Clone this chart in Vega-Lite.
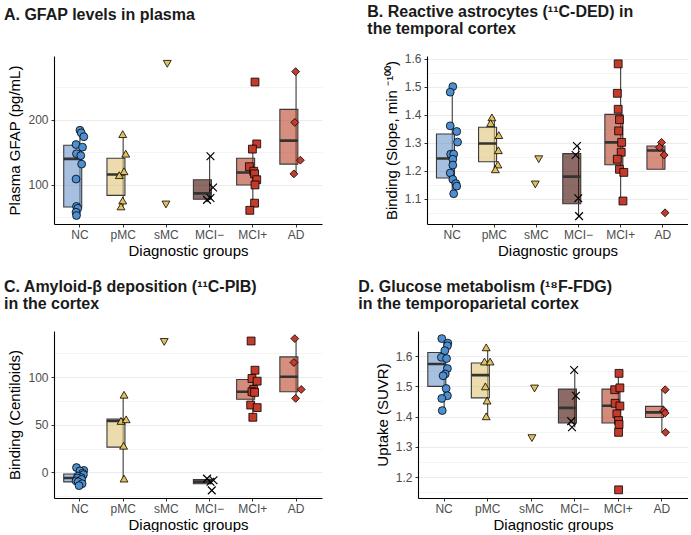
{
"$schema": "https://vega.github.io/schema/vega-lite/v6.json",
"background": "white",
"padding": {"left": 3, "top": 3, "right": 0, "bottom": 0},
"config": {
 "view": {"stroke": null},
 "font": "Liberation Sans",
 "axis": {"domainColor": "black", "domainWidth": 1.1, "tickColor": "#333333", "tickSize": 3, "tickWidth": 1, "labelColor": "#4d4d4d", "labelFontSize": 12, "labelFont": "Liberation Sans", "titleFont": "Liberation Sans", "titleFontSize": 15, "titleFontWeight": "normal", "titleColor": "black", "gridColor": "#ebebeb", "gridWidth": 1, "labelPadding": 3, "titlePadding": 5, "labelOverlap": false},
 "axisX": {"labelAngle": 0, "labelPadding": 2, "titlePadding": 3},
 "title": {"font": "Liberation Sans", "fontSize": 16, "fontWeight": "bold", "anchor": "start", "frame": "bounds", "color": "#1a1a1a", "lineHeight": 17}
},
"datasets": {
 "box": [
  {"panel": "A", "group": "NC", "q1": 66, "med": 140, "q3": 161, "lo": 53, "hi": 184},
  {"panel": "A", "group": "pMC", "q1": 84, "med": 116, "q3": 141, "lo": 67, "hi": 178},
  {"panel": "A", "group": "MCI−", "q1": 78, "med": 87, "q3": 108, "lo": 77, "hi": 144},
  {"panel": "A", "group": "MCI+", "q1": 100, "med": 119, "q3": 141, "lo": 61, "hi": 163},
  {"panel": "A", "group": "AD", "q1": 132, "med": 168, "q3": 216, "lo": 117, "hi": 274},
  {"panel": "B", "group": "NC", "q1": 1.174, "med": 1.2435, "q3": 1.331, "lo": 1.118, "hi": 1.5},
  {"panel": "B", "group": "pMC", "q1": 1.232, "med": 1.297, "q3": 1.355, "lo": 1.205, "hi": 1.39},
  {"panel": "B", "group": "MCI−", "q1": 1.082, "med": 1.179, "q3": 1.261, "lo": 1.038, "hi": 1.288},
  {"panel": "B", "group": "MCI+", "q1": 1.221, "med": 1.301, "q3": 1.401, "lo": 1.092, "hi": 1.581},
  {"panel": "B", "group": "AD", "q1": 1.205, "med": 1.272, "q3": 1.288, "lo": 1.205, "hi": 1.301},
  {"panel": "C", "group": "NC", "q1": -10.1, "med": -6, "q3": -1.8, "lo": -14, "hi": 5},
  {"panel": "C", "group": "pMC", "q1": 26.5, "med": 54, "q3": 56, "lo": -6.6, "hi": 81.5},
  {"panel": "C", "group": "MCI−", "q1": -12, "med": -10, "q3": -7.7, "lo": -12, "hi": -6.6},
  {"panel": "C", "group": "MCI+", "q1": 76.7, "med": 84.7, "q3": 97.6, "lo": 57.8, "hi": 107.3},
  {"panel": "C", "group": "AD", "q1": 84.7, "med": 100.4, "q3": 121.3, "lo": 77.7, "hi": 140.5},
  {"panel": "D", "group": "NC", "q1": 1.5, "med": 1.574, "q3": 1.612, "lo": 1.42, "hi": 1.658},
  {"panel": "D", "group": "pMC", "q1": 1.462, "med": 1.537, "q3": 1.577, "lo": 1.401, "hi": 1.629},
  {"panel": "D", "group": "MCI−", "q1": 1.379, "med": 1.429, "q3": 1.491, "lo": 1.365, "hi": 1.554},
  {"panel": "D", "group": "MCI+", "q1": 1.379, "med": 1.436, "q3": 1.491, "lo": 1.348, "hi": 1.543},
  {"panel": "D", "group": "AD", "q1": 1.397, "med": 1.414, "q3": 1.434, "lo": 1.348, "hi": 1.489}
 ],
 "pts": [
  {"panel": "A", "group": "NC", "value": 184, "jitter": 0},
  {"panel": "A", "group": "NC", "value": 180, "jitter": 0.03},
  {"panel": "A", "group": "NC", "value": 174, "jitter": 0.09},
  {"panel": "A", "group": "NC", "value": 162, "jitter": -0.09},
  {"panel": "A", "group": "NC", "value": 158, "jitter": 0.06},
  {"panel": "A", "group": "NC", "value": 148, "jitter": -0.08},
  {"panel": "A", "group": "NC", "value": 145, "jitter": 0.02},
  {"panel": "A", "group": "NC", "value": 132, "jitter": 0.04},
  {"panel": "A", "group": "NC", "value": 109, "jitter": -0.09},
  {"panel": "A", "group": "NC", "value": 67, "jitter": -0.08},
  {"panel": "A", "group": "NC", "value": 64, "jitter": -0.05},
  {"panel": "A", "group": "NC", "value": 58, "jitter": -0.09},
  {"panel": "A", "group": "NC", "value": 53, "jitter": -0.08},
  {"panel": "A", "group": "pMC", "value": 178, "jitter": -0.01},
  {"panel": "A", "group": "pMC", "value": 148, "jitter": 0.06},
  {"panel": "A", "group": "pMC", "value": 121, "jitter": 0.02},
  {"panel": "A", "group": "pMC", "value": 115, "jitter": -0.09},
  {"panel": "A", "group": "pMC", "value": 76, "jitter": -0.01},
  {"panel": "A", "group": "pMC", "value": 67, "jitter": -0.05},
  {"panel": "A", "group": "sMC", "value": 286, "jitter": 0.02},
  {"panel": "A", "group": "sMC", "value": 70, "jitter": -0.01},
  {"panel": "A", "group": "MCI−", "value": 144, "jitter": 0.02},
  {"panel": "A", "group": "MCI−", "value": 96, "jitter": 0.08},
  {"panel": "A", "group": "MCI−", "value": 77, "jitter": -0.06},
  {"panel": "A", "group": "MCI−", "value": 80, "jitter": 0.02},
  {"panel": "A", "group": "MCI+", "value": 258, "jitter": 0.05},
  {"panel": "A", "group": "MCI+", "value": 163, "jitter": 0.09},
  {"panel": "A", "group": "MCI+", "value": 155, "jitter": -0.01},
  {"panel": "A", "group": "MCI+", "value": 128, "jitter": -0.08},
  {"panel": "A", "group": "MCI+", "value": 121, "jitter": 0.02},
  {"panel": "A", "group": "MCI+", "value": 117, "jitter": 0.04},
  {"panel": "A", "group": "MCI+", "value": 108, "jitter": 0.09},
  {"panel": "A", "group": "MCI+", "value": 100, "jitter": 0.05},
  {"panel": "A", "group": "MCI+", "value": 72, "jitter": 0.04},
  {"panel": "A", "group": "MCI+", "value": 61, "jitter": -0.07},
  {"panel": "A", "group": "AD", "value": 274, "jitter": -0.01},
  {"panel": "A", "group": "AD", "value": 196, "jitter": -0.03},
  {"panel": "A", "group": "AD", "value": 138, "jitter": 0.1},
  {"panel": "A", "group": "AD", "value": 117, "jitter": -0.05},
  {"panel": "B", "group": "NC", "value": 1.5, "jitter": 0},
  {"panel": "B", "group": "NC", "value": 1.48, "jitter": -0.06},
  {"panel": "B", "group": "NC", "value": 1.36, "jitter": -0.06},
  {"panel": "B", "group": "NC", "value": 1.34, "jitter": 0.09},
  {"panel": "B", "group": "NC", "value": 1.302, "jitter": 0.11},
  {"panel": "B", "group": "NC", "value": 1.259, "jitter": -0.05},
  {"panel": "B", "group": "NC", "value": 1.259, "jitter": 0.02},
  {"panel": "B", "group": "NC", "value": 1.241, "jitter": 0},
  {"panel": "B", "group": "NC", "value": 1.22, "jitter": 0},
  {"panel": "B", "group": "NC", "value": 1.192, "jitter": -0.06},
  {"panel": "B", "group": "NC", "value": 1.169, "jitter": 0},
  {"panel": "B", "group": "NC", "value": 1.154, "jitter": 0.07},
  {"panel": "B", "group": "NC", "value": 1.145, "jitter": 0.09},
  {"panel": "B", "group": "NC", "value": 1.118, "jitter": 0.02},
  {"panel": "B", "group": "pMC", "value": 1.39, "jitter": -0.07},
  {"panel": "B", "group": "pMC", "value": 1.37, "jitter": -0.1},
  {"panel": "B", "group": "pMC", "value": 1.327, "jitter": 0.09},
  {"panel": "B", "group": "pMC", "value": 1.273, "jitter": 0.08},
  {"panel": "B", "group": "pMC", "value": 1.222, "jitter": 0.07},
  {"panel": "B", "group": "pMC", "value": 1.205, "jitter": 0.01},
  {"panel": "B", "group": "sMC", "value": 1.241, "jitter": 0.04},
  {"panel": "B", "group": "sMC", "value": 1.151, "jitter": -0.04},
  {"panel": "B", "group": "MCI−", "value": 1.288, "jitter": -0.05},
  {"panel": "B", "group": "MCI−", "value": 1.256, "jitter": -0.08},
  {"panel": "B", "group": "MCI−", "value": 1.102, "jitter": -0.02},
  {"panel": "B", "group": "MCI−", "value": 1.038, "jitter": 0},
  {"panel": "B", "group": "MCI+", "value": 1.581, "jitter": -0.07},
  {"panel": "B", "group": "MCI+", "value": 1.476, "jitter": -0.09},
  {"panel": "B", "group": "MCI+", "value": 1.419, "jitter": -0.07},
  {"panel": "B", "group": "MCI+", "value": 1.382, "jitter": -0.04},
  {"panel": "B", "group": "MCI+", "value": 1.342, "jitter": -0.06},
  {"panel": "B", "group": "MCI+", "value": 1.301, "jitter": 0.01},
  {"panel": "B", "group": "MCI+", "value": 1.266, "jitter": 0},
  {"panel": "B", "group": "MCI+", "value": 1.241, "jitter": -0.09},
  {"panel": "B", "group": "MCI+", "value": 1.205, "jitter": -0.04},
  {"panel": "B", "group": "MCI+", "value": 1.194, "jitter": 0.06},
  {"panel": "B", "group": "MCI+", "value": 1.092, "jitter": 0.04},
  {"panel": "B", "group": "AD", "value": 1.301, "jitter": -0.04},
  {"panel": "B", "group": "AD", "value": 1.283, "jitter": -0.09},
  {"panel": "B", "group": "AD", "value": 1.256, "jitter": 0.02},
  {"panel": "B", "group": "AD", "value": 1.05, "jitter": 0.04},
  {"panel": "C", "group": "NC", "value": 5, "jitter": -0.08},
  {"panel": "C", "group": "NC", "value": 2, "jitter": 0.09},
  {"panel": "C", "group": "NC", "value": 1.5, "jitter": 0},
  {"panel": "C", "group": "NC", "value": -1, "jitter": 0.06},
  {"panel": "C", "group": "NC", "value": -2.5, "jitter": 0.08},
  {"panel": "C", "group": "NC", "value": -4, "jitter": -0.05},
  {"panel": "C", "group": "NC", "value": -5.5, "jitter": 0.03},
  {"panel": "C", "group": "NC", "value": -6, "jitter": -0.06},
  {"panel": "C", "group": "NC", "value": -7.5, "jitter": 0.04},
  {"panel": "C", "group": "NC", "value": -9, "jitter": -0.09},
  {"panel": "C", "group": "NC", "value": -10, "jitter": -0.04},
  {"panel": "C", "group": "NC", "value": -12, "jitter": 0.05},
  {"panel": "C", "group": "NC", "value": -14, "jitter": -0.02},
  {"panel": "C", "group": "pMC", "value": 81.5, "jitter": 0.02},
  {"panel": "C", "group": "pMC", "value": 54, "jitter": -0.05},
  {"panel": "C", "group": "pMC", "value": 55.7, "jitter": 0.07},
  {"panel": "C", "group": "pMC", "value": 27.9, "jitter": 0.01},
  {"panel": "C", "group": "pMC", "value": -6.6, "jitter": 0.02},
  {"panel": "C", "group": "sMC", "value": 137, "jitter": -0.05},
  {"panel": "C", "group": "MCI−", "value": -6.6, "jitter": -0.06},
  {"panel": "C", "group": "MCI−", "value": -8.4, "jitter": 0.09},
  {"panel": "C", "group": "MCI−", "value": -10, "jitter": 0.02},
  {"panel": "C", "group": "MCI−", "value": -19, "jitter": 0.05},
  {"panel": "C", "group": "MCI+", "value": 138, "jitter": -0.04},
  {"panel": "C", "group": "MCI+", "value": 107.3, "jitter": 0.05},
  {"panel": "C", "group": "MCI+", "value": 98.6, "jitter": -0.02},
  {"panel": "C", "group": "MCI+", "value": 95.8, "jitter": 0.1},
  {"panel": "C", "group": "MCI+", "value": 87.1, "jitter": 0.02},
  {"panel": "C", "group": "MCI+", "value": 84.7, "jitter": -0.02},
  {"panel": "C", "group": "MCI+", "value": 84, "jitter": 0.04},
  {"panel": "C", "group": "MCI+", "value": 70.7, "jitter": -0.05},
  {"panel": "C", "group": "MCI+", "value": 68, "jitter": 0.1},
  {"panel": "C", "group": "MCI+", "value": 57.8, "jitter": 0},
  {"panel": "C", "group": "AD", "value": 140.5, "jitter": -0.03},
  {"panel": "C", "group": "AD", "value": 115.4, "jitter": -0.05},
  {"panel": "C", "group": "AD", "value": 87.1, "jitter": 0.12},
  {"panel": "C", "group": "AD", "value": 77.7, "jitter": -0.01},
  {"panel": "D", "group": "NC", "value": 1.658, "jitter": -0.05},
  {"panel": "D", "group": "NC", "value": 1.643, "jitter": 0.09},
  {"panel": "D", "group": "NC", "value": 1.634, "jitter": 0.08},
  {"panel": "D", "group": "NC", "value": 1.618, "jitter": 0.02},
  {"panel": "D", "group": "NC", "value": 1.596, "jitter": -0.06},
  {"panel": "D", "group": "NC", "value": 1.592, "jitter": 0.06},
  {"panel": "D", "group": "NC", "value": 1.559, "jitter": 0.08},
  {"panel": "D", "group": "NC", "value": 1.541, "jitter": 0.03},
  {"panel": "D", "group": "NC", "value": 1.535, "jitter": -0.02},
  {"panel": "D", "group": "NC", "value": 1.493, "jitter": 0.05},
  {"panel": "D", "group": "NC", "value": 1.469, "jitter": 0.08},
  {"panel": "D", "group": "NC", "value": 1.46, "jitter": -0.05},
  {"panel": "D", "group": "NC", "value": 1.42, "jitter": -0.04},
  {"panel": "D", "group": "pMC", "value": 1.629, "jitter": -0.03},
  {"panel": "D", "group": "pMC", "value": 1.582, "jitter": -0.07},
  {"panel": "D", "group": "pMC", "value": 1.582, "jitter": 0.06},
  {"panel": "D", "group": "pMC", "value": 1.5, "jitter": -0.05},
  {"panel": "D", "group": "pMC", "value": 1.453, "jitter": -0.01},
  {"panel": "D", "group": "pMC", "value": 1.401, "jitter": -0.03},
  {"panel": "D", "group": "sMC", "value": 1.493, "jitter": 0.08},
  {"panel": "D", "group": "sMC", "value": 1.329, "jitter": 0.02},
  {"panel": "D", "group": "MCI−", "value": 1.554, "jitter": -0.01},
  {"panel": "D", "group": "MCI−", "value": 1.469, "jitter": 0.03},
  {"panel": "D", "group": "MCI−", "value": 1.385, "jitter": -0.08},
  {"panel": "D", "group": "MCI−", "value": 1.365, "jitter": -0.06},
  {"panel": "D", "group": "MCI+", "value": 1.543, "jitter": 0.02},
  {"panel": "D", "group": "MCI+", "value": 1.489, "jitter": -0.08},
  {"panel": "D", "group": "MCI+", "value": 1.495, "jitter": 0.04},
  {"panel": "D", "group": "MCI+", "value": 1.444, "jitter": -0.07},
  {"panel": "D", "group": "MCI+", "value": 1.435, "jitter": 0.04},
  {"panel": "D", "group": "MCI+", "value": 1.409, "jitter": -0.03},
  {"panel": "D", "group": "MCI+", "value": 1.387, "jitter": 0.01},
  {"panel": "D", "group": "MCI+", "value": 1.374, "jitter": 0.02},
  {"panel": "D", "group": "MCI+", "value": 1.348, "jitter": 0.01},
  {"panel": "D", "group": "MCI+", "value": 1.158, "jitter": 0.01},
  {"panel": "D", "group": "AD", "value": 1.489, "jitter": 0.08},
  {"panel": "D", "group": "AD", "value": 1.42, "jitter": 0.05},
  {"panel": "D", "group": "AD", "value": 1.412, "jitter": 0.08},
  {"panel": "D", "group": "AD", "value": 1.348, "jitter": 0.09}
 ]
},
"spacing": 21,
"vconcat": [
 {"bounds": "flush", "spacing": 105, "hconcat": [
  {"width": 268, "height": 168,
   "title": {"text": "A. GFAP levels in plasma", "offset": 33, "dx": -4},
   "resolve": {"axis": {"y": "independent"}},
   "encoding": {"x": {"field": "group", "type": "nominal", "scale": {"type": "band", "domain": ["NC","pMC","sMC","MCI−","MCI+","AD"], "paddingInner": 0, "paddingOuter": 0.1}, "title": "Diagnostic groups"}},
   "layer": [
    {"data": {"name": "box"}, "transform": [{"filter": "datum.panel === 'A'"}], "mark": {"type": "rule", "color": "#3a3a3a", "strokeWidth": 1.1},
     "encoding": {"y": {"field": "lo", "type": "quantitative", "scale": {"domain": [40, 298], "nice": false, "zero": false}, "title": null,
       "axis": {"orient": "left", "values": [50, 150, 250], "labels": false, "ticks": false, "domain": false, "grid": true, "gridWidth": 0.5}},
      "y2": {"field": "hi"}}},
    {"data": {"name": "box"}, "transform": [{"filter": "datum.panel === 'A'"}], "mark": {"type": "bar", "width": {"band": 0.75}, "stroke": "#3a3a3a", "strokeWidth": 1.1, "fillOpacity": 0.6},
     "encoding": {"y": {"field": "q1", "type": "quantitative", "title": "Plasma GFAP (pg/mL)", "axis": {"orient": "left", "values": [100, 200], "grid": true}}, "y2": {"field": "q3"}, "color": {"field": "group", "type": "nominal", "legend": null, "scale": {"domain": ["NC","pMC","MCI−","MCI+","AD"], "range": ["#6e96cb","#dfc576","#3f0800","#b63e25","#bb432a"]}}}},
    {"data": {"name": "box"}, "transform": [{"filter": "datum.panel === 'A'"}], "mark": {"type": "bar", "width": {"band": 0.75}, "fill": null, "stroke": "#333333", "strokeWidth": 2.6},
     "encoding": {"y": {"field": "med", "type": "quantitative", "axis": null}, "y2": {"field": "med"}}},
    {"data": {"name": "pts"}, "transform": [{"filter": "datum.panel === 'A' && datum.group !== 'MCI−'"}], "mark": {"type": "point", "filled": true, "stroke": "black", "strokeWidth": 0.8, "size": 62, "opacity": 1},
     "encoding": {"y": {"field": "value", "type": "quantitative", "axis": null}, "xOffset": {"field": "jitter", "type": "quantitative", "scale": {"domain": [-0.5, 0.5]}},
      "shape": {"field": "group", "type": "nominal", "legend": null, "scale": {"domain": ["NC","pMC","sMC","MCI+","AD"], "range": ["circle","triangle-up","triangle-down","square","diamond"]}},
      "fill": {"field": "group", "type": "nominal", "legend": null, "scale": {"domain": ["NC","pMC","sMC","MCI+","AD"], "range": ["#4d8fd0","#e3c15a","#e3c15a","#c43a2b","#c43a2b"]}}}},
    {"data": {"name": "pts"}, "transform": [{"filter": "datum.panel === 'A' && datum.group === 'MCI−'"}], "mark": {"type": "point", "shape": "M-1,-1L1,1M-1,1L1,-1", "filled": false, "stroke": "black", "strokeWidth": 1.2, "size": 60, "opacity": 1},
     "encoding": {"y": {"field": "value", "type": "quantitative", "axis": null}, "xOffset": {"field": "jitter", "type": "quantitative", "scale": {"domain": [-0.5, 0.5]}}}}
   ]},
  {"width": 261, "height": 168,
   "title": {"text": ["B. Reactive astrocytes (¹¹C-DED) in", "the temporal cortex"], "offset": 16, "dx": -17},
   "resolve": {"axis": {"y": "independent"}},
   "encoding": {"x": {"field": "group", "type": "nominal", "scale": {"type": "band", "domain": ["NC","pMC","sMC","MCI−","MCI+","AD"], "paddingInner": 0, "paddingOuter": 0.1}, "title": "Diagnostic groups"}},
   "layer": [
    {"data": {"name": "box"}, "transform": [{"filter": "datum.panel === 'B'"}], "mark": {"type": "rule", "color": "#3a3a3a", "strokeWidth": 1.1},
     "encoding": {"y": {"field": "lo", "type": "quantitative", "scale": {"domain": [1.01, 1.609], "nice": false, "zero": false}, "title": null,
       "axis": {"orient": "left", "values": [1.05, 1.15, 1.25, 1.35, 1.45, 1.55], "labels": false, "ticks": false, "domain": false, "grid": true, "gridWidth": 0.5}},
      "y2": {"field": "hi"}}},
    {"data": {"name": "box"}, "transform": [{"filter": "datum.panel === 'B'"}], "mark": {"type": "bar", "width": {"band": 0.75}, "stroke": "#3a3a3a", "strokeWidth": 1.1, "fillOpacity": 0.6},
     "encoding": {"y": {"field": "q1", "type": "quantitative", "title": "Binding (Slope, min ⁻¹⁰⁰)", "axis": {"orient": "left", "values": [1.1, 1.2, 1.3, 1.4, 1.5, 1.6], "format": ".1f", "grid": true}}, "y2": {"field": "q3"}, "color": {"field": "group", "type": "nominal", "legend": null, "scale": {"domain": ["NC","pMC","MCI−","MCI+","AD"], "range": ["#6e96cb","#dfc576","#3f0800","#b63e25","#bb432a"]}}}},
    {"data": {"name": "box"}, "transform": [{"filter": "datum.panel === 'B'"}], "mark": {"type": "bar", "width": {"band": 0.75}, "fill": null, "stroke": "#333333", "strokeWidth": 2.6},
     "encoding": {"y": {"field": "med", "type": "quantitative", "axis": null}, "y2": {"field": "med"}}},
    {"data": {"name": "pts"}, "transform": [{"filter": "datum.panel === 'B' && datum.group !== 'MCI−'"}], "mark": {"type": "point", "filled": true, "stroke": "black", "strokeWidth": 0.8, "size": 62, "opacity": 1},
     "encoding": {"y": {"field": "value", "type": "quantitative", "axis": null}, "xOffset": {"field": "jitter", "type": "quantitative", "scale": {"domain": [-0.5, 0.5]}},
      "shape": {"field": "group", "type": "nominal", "legend": null, "scale": {"domain": ["NC","pMC","sMC","MCI+","AD"], "range": ["circle","triangle-up","triangle-down","square","diamond"]}},
      "fill": {"field": "group", "type": "nominal", "legend": null, "scale": {"domain": ["NC","pMC","sMC","MCI+","AD"], "range": ["#4d8fd0","#e3c15a","#e3c15a","#c43a2b","#c43a2b"]}}}},
    {"data": {"name": "pts"}, "transform": [{"filter": "datum.panel === 'B' && datum.group === 'MCI−'"}], "mark": {"type": "point", "shape": "M-1,-1L1,1M-1,1L1,-1", "filled": false, "stroke": "black", "strokeWidth": 1.2, "size": 60, "opacity": 1},
     "encoding": {"y": {"field": "value", "type": "quantitative", "axis": null}, "xOffset": {"field": "jitter", "type": "quantitative", "scale": {"domain": [-0.5, 0.5]}}}}
   ]}
 ]},
 {"bounds": "flush", "spacing": 96, "hconcat": [
  {"width": 268, "height": 167,
   "title": {"text": ["C. Amyloid-β deposition (¹¹C-PIB)", "in the cortex"], "offset": 19, "dx": -4},
   "resolve": {"axis": {"y": "independent"}},
   "encoding": {"x": {"field": "group", "type": "nominal", "scale": {"type": "band", "domain": ["NC","pMC","sMC","MCI−","MCI+","AD"], "paddingInner": 0, "paddingOuter": 0.1}, "title": "Diagnostic groups"}},
   "layer": [
    {"data": {"name": "box"}, "transform": [{"filter": "datum.panel === 'C'"}], "mark": {"type": "rule", "color": "#3a3a3a", "strokeWidth": 1.1},
     "encoding": {"y": {"field": "lo", "type": "quantitative", "scale": {"domain": [-27, 148.5], "nice": false, "zero": false}, "title": null,
       "axis": {"orient": "left", "values": [-25, 25, 75, 125], "labels": false, "ticks": false, "domain": false, "grid": true, "gridWidth": 0.5}},
      "y2": {"field": "hi"}}},
    {"data": {"name": "box"}, "transform": [{"filter": "datum.panel === 'C'"}], "mark": {"type": "bar", "width": {"band": 0.75}, "stroke": "#3a3a3a", "strokeWidth": 1.1, "fillOpacity": 0.6},
     "encoding": {"y": {"field": "q1", "type": "quantitative", "title": "Binding (Centiloids)", "axis": {"orient": "left", "values": [0, 50, 100], "grid": true}}, "y2": {"field": "q3"}, "color": {"field": "group", "type": "nominal", "legend": null, "scale": {"domain": ["NC","pMC","MCI−","MCI+","AD"], "range": ["#6e96cb","#dfc576","#3f0800","#b63e25","#bb432a"]}}}},
    {"data": {"name": "box"}, "transform": [{"filter": "datum.panel === 'C'"}], "mark": {"type": "bar", "width": {"band": 0.75}, "fill": null, "stroke": "#333333", "strokeWidth": 2.6},
     "encoding": {"y": {"field": "med", "type": "quantitative", "axis": null}, "y2": {"field": "med"}}},
    {"data": {"name": "pts"}, "transform": [{"filter": "datum.panel === 'C' && datum.group !== 'MCI−'"}], "mark": {"type": "point", "filled": true, "stroke": "black", "strokeWidth": 0.8, "size": 62, "opacity": 1},
     "encoding": {"y": {"field": "value", "type": "quantitative", "axis": null}, "xOffset": {"field": "jitter", "type": "quantitative", "scale": {"domain": [-0.5, 0.5]}},
      "shape": {"field": "group", "type": "nominal", "legend": null, "scale": {"domain": ["NC","pMC","sMC","MCI+","AD"], "range": ["circle","triangle-up","triangle-down","square","diamond"]}},
      "fill": {"field": "group", "type": "nominal", "legend": null, "scale": {"domain": ["NC","pMC","sMC","MCI+","AD"], "range": ["#4d8fd0","#e3c15a","#e3c15a","#c43a2b","#c43a2b"]}}}},
    {"data": {"name": "pts"}, "transform": [{"filter": "datum.panel === 'C' && datum.group === 'MCI−'"}], "mark": {"type": "point", "shape": "M-1,-1L1,1M-1,1L1,-1", "filled": false, "stroke": "black", "strokeWidth": 1.2, "size": 60, "opacity": 1},
     "encoding": {"y": {"field": "value", "type": "quantitative", "axis": null}, "xOffset": {"field": "jitter", "type": "quantitative", "scale": {"domain": [-0.5, 0.5]}}}}
   ]},
  {"width": 270, "height": 167,
   "title": {"text": ["D. Glucose metabolism (¹⁸F-FDG)", "in the temporoparietal cortex"], "offset": 19, "dx": -17},
   "resolve": {"axis": {"y": "independent"}},
   "encoding": {"x": {"field": "group", "type": "nominal", "scale": {"type": "band", "domain": ["NC","pMC","sMC","MCI−","MCI+","AD"], "paddingInner": 0, "paddingOuter": 0.1}, "title": "Diagnostic groups"}},
   "layer": [
    {"data": {"name": "box"}, "transform": [{"filter": "datum.panel === 'D'"}], "mark": {"type": "rule", "color": "#3a3a3a", "strokeWidth": 1.1},
     "encoding": {"y": {"field": "lo", "type": "quantitative", "scale": {"domain": [1.131, 1.683], "nice": false, "zero": false}, "title": null,
       "axis": {"orient": "left", "values": [1.15, 1.25, 1.35, 1.45, 1.55, 1.65], "labels": false, "ticks": false, "domain": false, "grid": true, "gridWidth": 0.5}},
      "y2": {"field": "hi"}}},
    {"data": {"name": "box"}, "transform": [{"filter": "datum.panel === 'D'"}], "mark": {"type": "bar", "width": {"band": 0.75}, "stroke": "#3a3a3a", "strokeWidth": 1.1, "fillOpacity": 0.6},
     "encoding": {"y": {"field": "q1", "type": "quantitative", "title": "Uptake (SUVR)", "axis": {"orient": "left", "values": [1.2, 1.3, 1.4, 1.5, 1.6], "format": ".1f", "grid": true}}, "y2": {"field": "q3"}, "color": {"field": "group", "type": "nominal", "legend": null, "scale": {"domain": ["NC","pMC","MCI−","MCI+","AD"], "range": ["#6e96cb","#dfc576","#3f0800","#b63e25","#bb432a"]}}}},
    {"data": {"name": "box"}, "transform": [{"filter": "datum.panel === 'D'"}], "mark": {"type": "bar", "width": {"band": 0.75}, "fill": null, "stroke": "#333333", "strokeWidth": 2.6},
     "encoding": {"y": {"field": "med", "type": "quantitative", "axis": null}, "y2": {"field": "med"}}},
    {"data": {"name": "pts"}, "transform": [{"filter": "datum.panel === 'D' && datum.group !== 'MCI−'"}], "mark": {"type": "point", "filled": true, "stroke": "black", "strokeWidth": 0.8, "size": 62, "opacity": 1},
     "encoding": {"y": {"field": "value", "type": "quantitative", "axis": null}, "xOffset": {"field": "jitter", "type": "quantitative", "scale": {"domain": [-0.5, 0.5]}},
      "shape": {"field": "group", "type": "nominal", "legend": null, "scale": {"domain": ["NC","pMC","sMC","MCI+","AD"], "range": ["circle","triangle-up","triangle-down","square","diamond"]}},
      "fill": {"field": "group", "type": "nominal", "legend": null, "scale": {"domain": ["NC","pMC","sMC","MCI+","AD"], "range": ["#4d8fd0","#e3c15a","#e3c15a","#c43a2b","#c43a2b"]}}}},
    {"data": {"name": "pts"}, "transform": [{"filter": "datum.panel === 'D' && datum.group === 'MCI−'"}], "mark": {"type": "point", "shape": "M-1,-1L1,1M-1,1L1,-1", "filled": false, "stroke": "black", "strokeWidth": 1.2, "size": 60, "opacity": 1},
     "encoding": {"y": {"field": "value", "type": "quantitative", "axis": null}, "xOffset": {"field": "jitter", "type": "quantitative", "scale": {"domain": [-0.5, 0.5]}}}}
   ]}
 ]}
]
}
